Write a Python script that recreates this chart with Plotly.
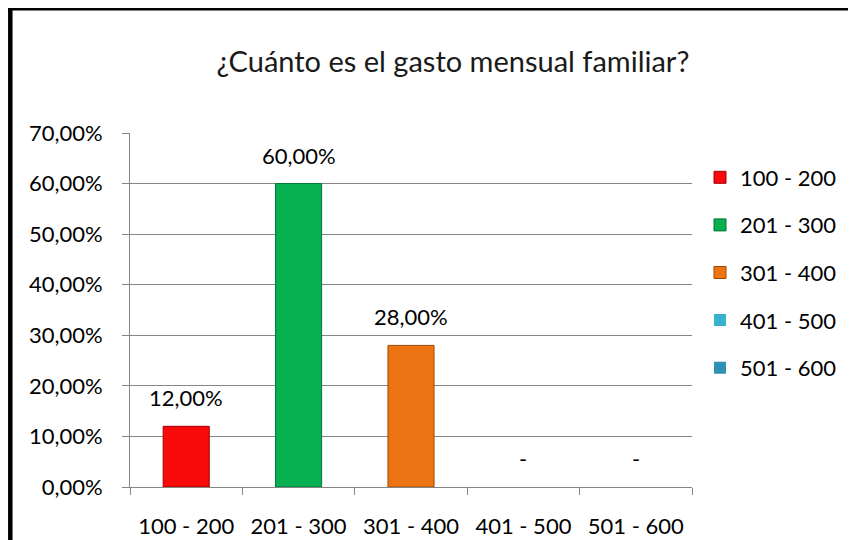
import plotly.graph_objects as go

categories = ["100 - 200", "201 - 300", "301 - 400", "401 - 500", "501 - 600"]
values = [12.0, 60.0, 28.0, 0.0, 0.0]
labels = ["12,00%", "60,00%", "28,00%", "-", "-"]
colors = ["#F80A0A", "#07B152", "#EC7412", "#38B2CB", "#2F92B2"]
edges = ["#9E0000", "#00753A", "#9C4A06", "#1F7F96", "#1C6680"]
y_ticks = [0, 10, 20, 30, 40, 50, 60, 70]
y_ticktext = ["0,00%", "10,00%", "20,00%", "30,00%", "40,00%", "50,00%", "60,00%", "70,00%"]
title = "¿Cuánto es el gasto mensual familiar?"

FONT = "Lato, Calibri, Carlito, sans-serif"
# the page body adds an 8px margin, so the figure is drawn 8px smaller
W, H = 848, 532
L, R, T, B = 122, 164, 125, 53
PW, PH = W - L - R, H - T - B

fig = go.Figure()
for i, cat in enumerate(categories):
    fig.add_trace(go.Bar(
        x=[cat], y=[values[i]], name=cat,
        marker=dict(color=colors[i],
                    line=dict(color=edges[i], width=1 if values[i] > 0 else 0)),
        legendgroup=cat,
    ))

annotations = [
    dict(x=cat, y=values[i], xref="x", yref="y", text=labels[i], showarrow=False,
         yanchor="bottom", yshift=13, font=dict(size=22, family=FONT, color="#000000"))
    for i, cat in enumerate(categories)
]

fig.update_layout(
    width=W, height=H,
    margin=dict(l=L, r=R, t=T, b=B),
    paper_bgcolor="white", plot_bgcolor="white",
    barmode="overlay", bargap=0.59,
    font=dict(family=FONT, size=22, color="#000000"),
    title=dict(text=title, x=445 / W, xref="container", xanchor="center",
               y=1 - 54 / H, yref="container", yanchor="middle",
               font=dict(size=29, family=FONT, color="#1a1a1a")),
    showlegend=True,
    legend=dict(x=692 / W, xref="container", xanchor="left",
                y=1 - 148.5 / H, yref="container", yanchor="top",
                font=dict(size=22, family=FONT), tracegroupgap=16,
                bgcolor="rgba(0,0,0,0)"),
    annotations=annotations,
    shapes=[
        dict(type="line", xref="paper", yref="paper",
             x0=(2.3 - L) / PW, x1=(2.3 - L) / PW, y0=(H - B) / PH + 0.01, y1=-B / PH - 0.02,
             line=dict(color="black", width=4.5)),
        dict(type="line", xref="paper", yref="paper",
             x0=(0 - L) / PW, x1=(W + 5 - L) / PW, y0=(H - B - 1) / PH, y1=(H - B - 1) / PH,
             line=dict(color="black", width=3)),
    ],
)
fig.update_xaxes(
    categoryorder="array", categoryarray=categories, automargin=False,
    showline=True, linecolor="#868686", linewidth=1,
    ticks="outside", tickson="boundaries", ticklen=7, tickcolor="#868686",
    ticklabelstandoff=20, showgrid=False,
    tickfont=dict(size=22, family=FONT),
)
fig.update_yaxes(
    range=[0, 70], tickvals=y_ticks, ticktext=y_ticktext, automargin=False,
    showline=True, linecolor="#868686", linewidth=1,
    ticks="outside", ticklen=7, tickcolor="#868686",
    showgrid=True, gridcolor="#868686", gridwidth=1,
    ticklabelstandoff=15, zeroline=False,
    tickfont=dict(size=22, family=FONT),
)

fig.write_html("out.html")
